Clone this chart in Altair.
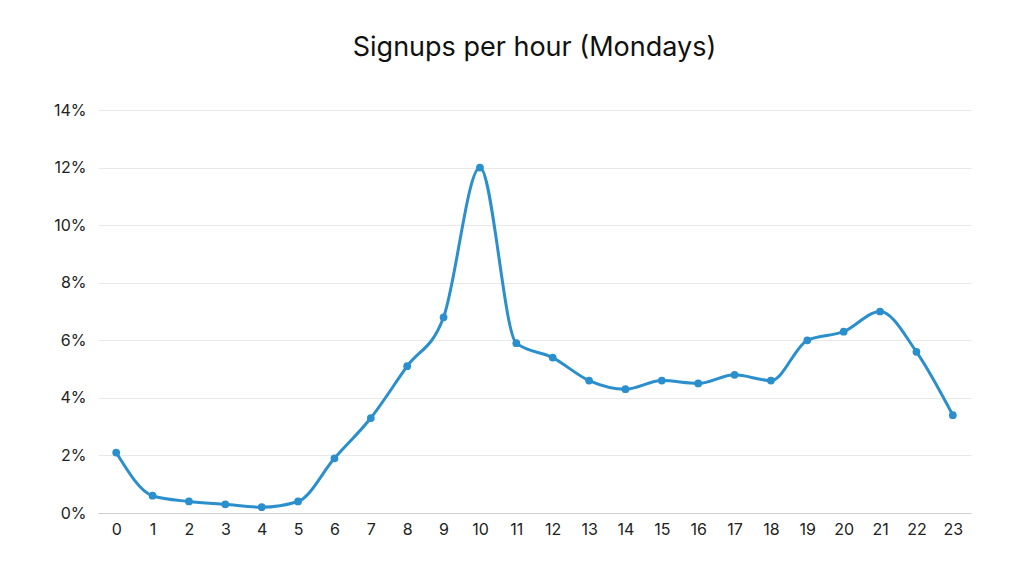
import altair as alt
import pandas as pd

hours = list(range(24))
signups_pct = [2.1, 0.6, 0.4, 0.3, 0.2, 0.4, 1.9, 3.3, 5.1, 6.8, 12.0, 5.9,
               5.4, 4.6, 4.3, 4.6, 4.5, 4.8, 4.6, 6.0, 6.3, 7.0, 5.6, 3.4]
y_ticks = [0, 2, 4, 6, 8, 10, 12, 14]

df = pd.DataFrame({"hour": hours, "pct": signups_pct})

color = "#2a8fcc"
x = alt.X("hour:O", title=None,
          axis=alt.Axis(labelAngle=0, labelFontSize=16, labelColor="#222",
                        labelFont="Inter", ticks=False, domainColor="#cfcfcf",
                        labelPadding=8, grid=False))
y = alt.Y("pct:Q", title=None, scale=alt.Scale(domain=[0, 14], nice=False),
          axis=alt.Axis(values=y_ticks, labelExpr="datum.value + '%'",
                        labelFontSize=16, labelColor="#222", labelFont="Inter",
                        ticks=False, domain=False, gridColor="#e8e8e8",
                        labelPadding=12))

line = alt.Chart(df).mark_line(color=color, strokeWidth=3,
                               interpolate="monotone").encode(x=x, y=y)
pts = alt.Chart(df).mark_circle(color=color, size=60, opacity=1).encode(x=x, y=y)

chart = (line + pts).properties(
    width=873, height=403,
    title=alt.TitleParams("Signups per hour (Mondays)", fontSize=27,
                          font="Inter", fontWeight="normal", color="#111",
                          offset=40, anchor="middle"),
    padding={"left": 90, "top": 102, "right": 45, "bottom": 55},
    autosize=alt.AutoSizeParams(type="none"),
).configure_view(stroke=None)

chart.save("out.html", embed_options={"renderer": "svg", "actions": False})
